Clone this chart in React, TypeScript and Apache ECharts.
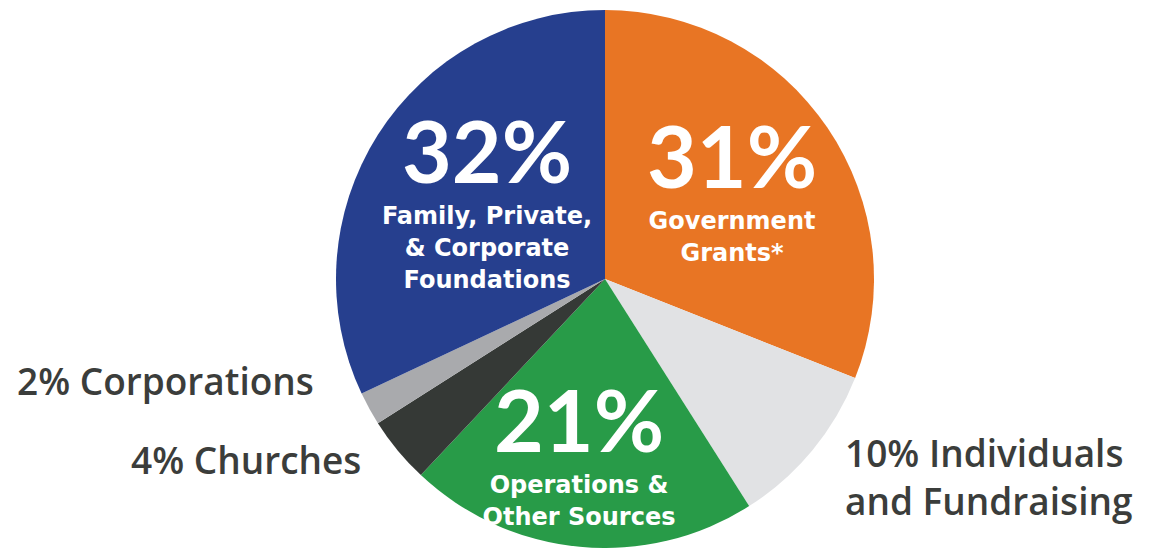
import React, { useEffect, useRef } from "react";
import * as echarts from "echarts";

const categories = [
  "Government Grants*",
  "Individuals and Fundraising",
  "Operations & Other Sources",
  "Churches",
  "Corporations",
  "Family, Private, & Corporate Foundations",
];
const values = [31, 10, 21, 4, 2, 32];
const labelLines = [
  ["Government", "Grants*"],
  ["Individuals", "and Fundraising"],
  ["Operations &", "Other Sources"],
  ["Churches"],
  ["Corporations"],
  ["Family, Private,", "& Corporate", "Foundations"],
];
const colors = ["#E87524", "#E1E2E4", "#289B48", "#353936", "#A9AAAD", "#263F8E"];
const insideSlices = [true, false, true, false, false, true];

// label anchor positions (layout only)
const labelAnchors = [
  { x: 732, y: 186, align: "center" },
  { x: 845, y: 476, align: "left" },
  { x: 579, y: 450, align: "center" },
  { x: 131, y: 459, align: "left" },
  { x: 17, y: 380, align: "left" },
  { x: 487, y: 197, align: "center" },
];

const BIG_FONT = "Lato, 'Noto Sans', sans-serif";
const SUB_FONT = "'DejaVu Sans', 'Noto Sans', sans-serif";
const FONT = "'Open Sans', 'Noto Sans', sans-serif";
const DARK = "#3B3D3B";

export default function App() {
  const ref = useRef<HTMLDivElement>(null);
  useEffect(() => {
    if (!ref.current) return;
    const chart = echarts.init(ref.current, undefined, { renderer: "svg" });
    const data = values.map((v, i) => {
      const inside = insideSlices[i];
      return {
        name: categories[i],
        value: v,
        itemStyle: { color: colors[i] },
        label: inside
          ? {
              show: true,
              position: "inside",
              formatter: () =>
                `{big|${v}%}\n` + labelLines[i].map((l) => `{sub|${l}}`).join("\n"),
              rich: {
                big: {
                  fontFamily: BIG_FONT,
                  fontSize: 86,
                  fontWeight: "bold",
                  color: "#ffffff",
                  lineHeight: 102,
                  align: "center",
                },
                sub: {
                  fontFamily: SUB_FONT,
                  fontSize: 24,
                  fontWeight: "bold",
                  color: "#ffffff",
                  lineHeight: 32,
                  align: "center",
                },
              },
            }
          : {
              show: true,
              position: "outside",
              formatter: () =>
                labelLines[i]
                  .map((l, k) => `{out|${k === 0 ? v + "% " : ""}${l}}`)
                  .join("\n"),
              rich: {
                out: {
                  fontFamily: FONT,
                  fontSize: 37,
                  fontWeight: 600,
                  color: DARK,
                  lineHeight: 48,
                  align: "left",
                },
              },
            },
        labelLine: { show: false },
      };
    });
    chart.setOption({
      animation: false,
      backgroundColor: "#ffffff",
      series: [
        {
          type: "pie",
          center: [605, 279],
          radius: [0, 269],
          startAngle: 90,
          clockwise: true,
          avoidLabelOverlap: false,
          itemStyle: { borderWidth: 0 },
          label: { show: true },
          labelLine: { show: false },
          labelLayout: (params: any) => {
            const a = labelAnchors[params.dataIndex];
            return { x: a.x, y: a.y, align: a.align, verticalAlign: "middle" };
          },
          data,
        },
      ],
    });
    return () => chart.dispose();
  }, []);
  return (
    <div
      ref={ref}
      style={{ position: "absolute", left: 0, top: 0, width: 1155, height: 548 }}
    />
  );
}
